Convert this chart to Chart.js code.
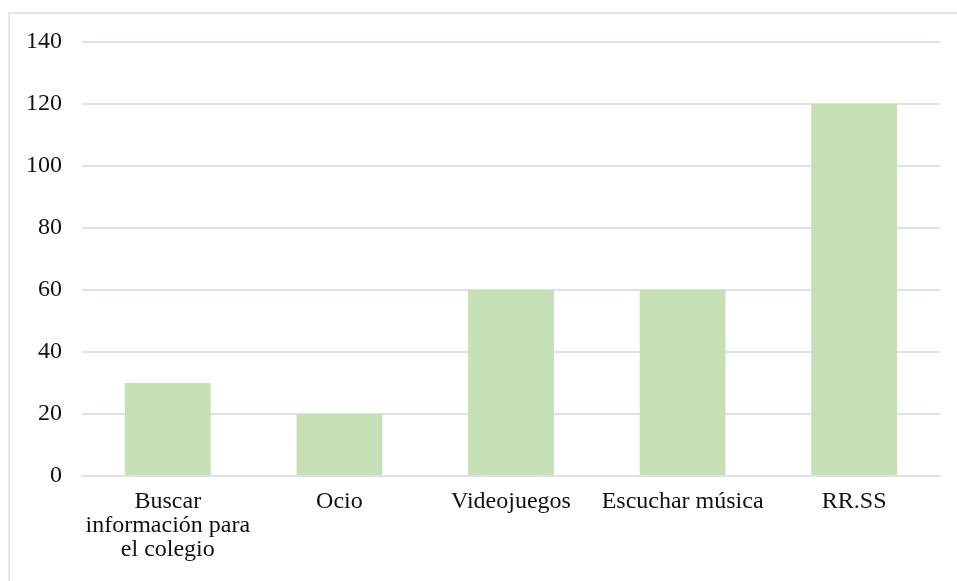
<!DOCTYPE html>
<html><head><meta charset="utf-8">
<script src="https://cdn.jsdelivr.net/npm/chart.js@4/dist/chart.umd.min.js"></script>
<style>
html,body{margin:0;padding:0;background:#fff;overflow:hidden;}
#wrap{position:relative;width:957px;height:581px;overflow:hidden;}
#frame{position:absolute;left:8px;top:12px;width:1000px;height:620px;border:2px solid #e3e6ea;box-sizing:border-box;}
canvas{position:absolute;left:0;top:0;}
</style></head>
<body>
<div id="wrap"><div id="frame"></div><canvas id="c" width="957" height="581"></canvas></div>
<script>
const categories = [["Buscar","información para","el colegio"], "Ocio", "Videojuegos", "Escuchar música", "RR.SS"];
const values = [30, 20, 60, 60, 120];
const yMin = 0, yMax = 140, yStep = 20;

new Chart(document.getElementById('c'), {
  type: 'bar',
  data: { labels: categories, datasets: [{ data: values, backgroundColor: '#c5e0b4', borderWidth: 0, categoryPercentage: 1, barPercentage: 0.5 }] },
  options: {
    responsive: false, animation: false, devicePixelRatio: 1,
    layout: { padding: { top: 42, right: 17, left: 0, bottom: 0 } },
    plugins: { legend: { display: false }, tooltip: { enabled: false } },
    scales: {
      x: {
        grid: { display: false },
        border: { display: true, color: '#dde2e8', width: 2 },
        ticks: { color: '#111', font: { family: 'Liberation Serif', size: 24, lineHeight: '24px' }, padding: 6, maxRotation: 0, autoSkip: false },
        afterFit: s => { s.height = 105; }
      },
      y: {
        min: yMin, max: yMax,
        grid: { color: '#dde2e8', lineWidth: 2, drawTicks: false },
        border: { display: false },
        ticks: { stepSize: yStep, color: '#111', font: { family: 'Liberation Serif', size: 24 }, padding: 20 },
        afterFit: s => { s.width = 82; }
      }
    }
  }
});
</script>
</body></html>
